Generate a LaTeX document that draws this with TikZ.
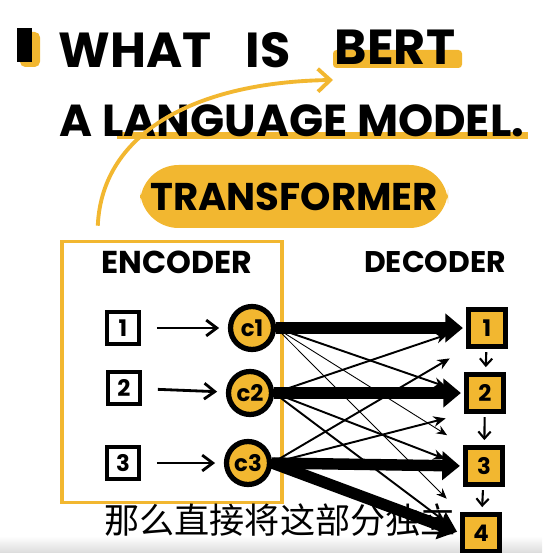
\documentclass[tikz,border=0pt]{standalone}
\usepackage{fontspec}
\setsansfont{Poppins}
\newfontfamily\cjk{Noto Sans CJK SC}
\usetikzlibrary{arrows.meta}
\definecolor{marker}{RGB}{242,183,48}

\begin{document}
\begin{tikzpicture}[x=0.02cm,y=-0.02cm]
	 \tikzstyle{bigword}=[font=\sffamily\bfseries\fontsize{28}{30}\selectfont,inner sep=0pt]
	 \tikzstyle{heading}=[font=\sffamily\bfseries\fontsize{18}{20}\selectfont,inner sep=0pt]
	 \tikzstyle{token}=[draw,line width=2.4pt,minimum size=0.64cm,inner sep=0pt,font=\sffamily\bfseries\fontsize{13}{13}\selectfont]
	 \tikzstyle{ctx}=[circle,draw,line width=3pt,fill=marker,minimum size=0.86cm,inner sep=0pt,font=\sffamily\bfseries\fontsize{13}{13}\selectfont]
	 \tikzstyle{dec}=[token,fill=marker,minimum size=0.74cm]
	 \tikzstyle{feed}=[draw,line width=1.6pt,-{Straight Barb[length=6pt,width=9pt]},shorten <=9pt,shorten >=5pt]
	 \tikzstyle{fat}=[draw,line width=6.5pt,-{Triangle[width=16pt,length=10pt]},shorten >=2pt]
	 \tikzstyle{thin}=[draw,line width=1.1pt,-{Stealth[width=6pt,length=7pt]},shorten >=11pt]
	 \tikzstyle{hair}=[draw,line width=0.5pt,-{Stealth[width=5pt,length=6pt]},shorten >=11pt]
	 \tikzstyle{down}=[draw,line width=1.2pt,-{Straight Barb[length=4pt,width=7pt]},shorten <=2pt,shorten >=3pt]
	 \useasboundingbox (0,0) rectangle (542,553);
	 \shade[top color=white,bottom color=black!14] (0,536) rectangle (542,553);
	 \fill[marker,rounded corners=3pt] (20,32) rectangle (40,67);
	 \fill[black] (17,28) rectangle (32,62);
	 \fill[marker,rounded corners=2pt] (333,50) rectangle (462,68);
	 \fill[marker] (117,132) rectangle (528,139);
	 \fill[marker,rounded corners=22pt] (140,165) rectangle (448,228);
	 \node[bigword] (what) at (135,50) {WHAT};
	 \node[bigword] (is) at (268,50) {IS};
	 \node[bigword] (bert) at (395,47) {BERT};
	 \node[bigword,font=\sffamily\bfseries\fontsize{25.5}{27}\selectfont] (lm) at (292,121) {A LANGUAGE MODEL.};
	 \node[bigword,font=\sffamily\bfseries\fontsize{22}{24}\selectfont] (tf) at (294,197) {TRANSFORMER};
	 \node[draw=marker,line width=2pt,minimum width=4.4cm,minimum height=5.22cm] (encbox) at (172,372) {};
	 \coordinate (tip) at (333,80);
	 \draw[marker,line width=2.2pt,-{Straight Barb[length=7pt,width=13pt]},shorten <=8pt] ([xshift=21pt]encbox.north west) .. controls (102,130) and (200,82) .. (tip);
	 \node[heading] (enc) at (177,262) {ENCODER};
	 \node[heading,font=\sffamily\bfseries\fontsize{17}{19}\selectfont] (dec) at (435,262) {DECODER};
	 \node[token] (i1) at (123,328) {1};
	 \node[token] (i2) at (124,388) {2};
	 \node[token] (i3) at (123,463) {3};
	 \node[ctx] (c1) at (252,328) {c1};
	 \node[ctx] (c2) at (250,393) {c2};
	 \node[ctx] (c3) at (248,463) {c3};
	 \node[dec] (d1) at (487,328) {1};
	 \node[dec] (d2) at (485,393) {2};
	 \node[dec] (d3) at (484,466) {3};
	 \node[dec] (d4) at (481,533) {4};
	 \draw[feed] (i1) -- (c1);
	 \draw[feed] (i2) -- (c2);
	 \draw[feed] (i3) -- (c3);
	 \draw[down] (d1) -- (d2);
	 \draw[down] (d2) -- (d3);
	 \draw[down] (d3) -- (d4);
	 \draw[thin] (c1.east) -- (d2.west);
	 \draw[hair] (c1.east) -- (d3.north west);
	 \draw[hair] (c1.east) -- (d4.north west);
	 \draw[thin] (c2.east) -- (d1.west);
	 \draw[thin] (c2.east) -- (d3.west);
	 \draw[thin] (c2.east) -- (d4.west);
	 \draw[thin] (c3.east) -- (d1.south west);
	 \draw[thin] (c3.east) -- (d2.south west);
	 \draw[fat] (c1.east) -- (d1.west);
	 \draw[fat] (c2.east) -- (d2.west);
	 \draw[fat] (c3.east) -- (d3.west);
	 \draw[fat] (c3.east) -- (d4.west);
	 \node[font=\cjk\fontsize{20}{22}\selectfont,inner sep=0pt] (sub) at (280,520) {那么直接将这部分独立};
\end{tikzpicture}
\end{document}
